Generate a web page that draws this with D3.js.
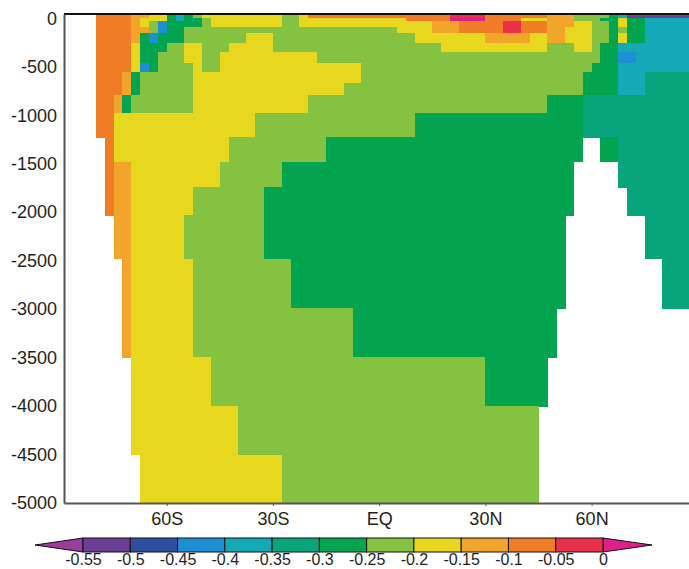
<!DOCTYPE html>
<html>
<head>
<meta charset="utf-8">
<script src="https://cdn.jsdelivr.net/npm/d3@7"></script>
<style>
  body { margin: 0; background: #fff; }
  text { font-family: "Liberation Sans", Arial, sans-serif; fill: #1e1e1e; }
</style>
</head>
<body>
<div id="vis"></div>
<script>
// class values (mid-point of each colour band)
const M = 0.025, R = -0.025, O = -0.075, o = -0.125, Y = -0.175, L = -0.225,
      G = -0.275, T = -0.325, C = -0.375, B = -0.425, P = -0.525;

// layer edges, as elevation in metres (top edge sits just above the surface)
const levelEdges = [45, 0, -30, -90, -150, -250, -350, -460, -550, -670, -790, -975,
                    -1225, -1480, -1740, -2030, -2480, -2990, -3495, -4000, -4500, -5000];

// each layer: runs of [lat from, lat to, value]
const layer0 = [[-80,-70,O],[-70,-65,o],[-65,-60,Y],[-60,-57.5,G],[-57.5,-55,C],[-55,-52.5,G],[-52.5,-50,L],
  [-50,-27.5,Y],[-27.5,-22.5,L],[-22.5,-20,Y],[-20,20,O],[20,30,R],[30,47.5,O],[47.5,55,o],[55,65,L],
  [65,67.5,G],[67.5,70,C],[70,87.5,P]];
const layer1 = [[-80,-70,O],[-70,-67.5,o],[-67.5,-60,Y],[-60,-57.5,G],[-57.5,-55,C],[-55,-50,G],[-50,-47.5,L],
  [-47.5,-27.5,Y],[-27.5,-22.5,L],[-22.5,7.5,Y],[7.5,20,O],[20,30,M],[30,40,O],[40,47.5,Y],[47.5,55,o],
  [55,62.5,L],[62.5,67.5,G],[67.5,70,Y],[70,75,G],[75,87.5,C]];
const layer2 = [[-80,-70,O],[-70,-67.5,o],[-67.5,-65,Y],[-65,-62.5,L],[-62.5,-60,B],[-60,-50,G],[-50,-47.5,L],
  [-47.5,-27.5,Y],[-27.5,-22.5,L],[-22.5,15,Y],[15,22.5,o],[22.5,35,O],[35,40,R],[40,47.5,O],[47.5,55,o],
  [55,60,Y],[60,65,L],[65,67.5,G],[67.5,70,Y],[70,75,G],[75,87.5,C]];
const layer3 = [[-80,-70,O],[-70,-65,o],[-65,-62.5,L],[-62.5,-60,B],[-60,-55,G],[-55,5,L],[5,15,Y],[15,22.5,o],
  [22.5,35,O],[35,40,R],[40,47.5,O],[47.5,52.5,o],[52.5,60,Y],[60,65,L],[65,67.5,G],[67.5,70,L],[70,75,G],
  [75,87.5,C]];
const layer4 = [[-80,-70,O],[-70,-67.5,o],[-67.5,-65,G],[-65,-62.5,B],[-62.5,-55,G],[-55,-37.5,L],[-37.5,-30,Y],
  [-30,10,L],[10,30,Y],[30,42.5,o],[42.5,47.5,Y],[47.5,52.5,o],[52.5,60,Y],[60,65,L],[65,67.5,G],[67.5,70,Y],
  [70,75,G],[75,87.5,C]];
const layer5 = [[-80,-70,O],[-70,-67.5,Y],[-67.5,-60,G],[-60,-55,L],[-55,-50,Y],[-50,-42.5,L],[-42.5,-30,Y],
  [-30,17.5,L],[17.5,47.5,Y],[47.5,55,L],[55,60,Y],[60,62.5,L],[62.5,67.5,G],[67.5,87.5,C]];
const layer6 = [[-80,-70,O],[-70,-67.5,Y],[-67.5,-62.5,G],[-62.5,-55,L],[-55,-50,Y],[-50,-45,L],[-45,-17.5,Y],
  [-17.5,62.5,L],[62.5,67.5,G],[67.5,72.5,B],[72.5,87.5,C]];
const layer7 = [[-80,-70,O],[-70,-67.5,Y],[-67.5,-65,B],[-65,-62.5,G],[-62.5,-52.5,L],[-52.5,-50,Y],[-50,-45,L],
  [-45,-5,Y],[-5,60,L],[60,67.5,G],[67.5,87.5,C]];
const layer8 = [[-80,-72.5,O],[-72.5,-70,o],[-70,-67.5,G],[-67.5,-52.5,L],[-52.5,-5,Y],[-5,57.5,L],[57.5,67.5,G],
  [67.5,75,C],[75,87.5,T]];
const layer9 = [[-80,-72.5,O],[-72.5,-70,o],[-70,-67.5,G],[-67.5,-52.5,L],[-52.5,-10,Y],[-10,57.5,L],[57.5,67.5,G],
  [67.5,75,C],[75,87.5,T]];
const layer10 = [[-80,-75,O],[-75,-72.5,o],[-72.5,-70,G],[-70,-52.5,L],[-52.5,-20,Y],[-20,47.5,L],[47.5,57.5,G],
  [57.5,87.5,T]];
const layer11 = [[-80,-75,O],[-75,-35,Y],[-35,10,L],[10,57.5,G],[57.5,87.5,T]];
const layer12 = [[-77.5,-75,O],[-75,-42.5,Y],[-42.5,-15,L],[-15,57.5,G],[62.5,67.5,G],[67.5,87.5,T]];
const layer13 = [[-77.5,-75,O],[-75,-70,o],[-70,-45,Y],[-45,-27.5,L],[-27.5,55,G],[67.5,87.5,T]];
const layer14 = [[-77.5,-75,O],[-75,-70,o],[-70,-52.5,Y],[-52.5,-32.5,L],[-32.5,55,G],[70,87.5,T]];
const layer15 = [[-75,-70,o],[-70,-55,Y],[-55,-32.5,L],[-32.5,52.5,G],[75,87.5,T]];
const layer16 = [[-72.5,-70,o],[-70,-52.5,Y],[-52.5,-25,L],[-25,52.5,G],[80,87.5,T]];
const layer17 = [[-72.5,-70,o],[-70,-52.5,Y],[-52.5,-7.5,L],[-7.5,50,G]];
const layer18 = [[-70,-47.5,Y],[-47.5,30,L],[30,47.5,G]];
const layer19 = [[-70,-40,Y],[-40,45,L]];
const layer20 = [[-67.5,-27.5,Y],[-27.5,45,L]];

const layers = [layer0, layer1, layer2, layer3, layer4, layer5, layer6, layer7, layer8, layer9, layer10,
                layer11, layer12, layer13, layer14, layer15, layer16, layer17, layer18, layer19, layer20];

const depthTicks = [0, -500, -1000, -1500, -2000, -2500, -3000, -3500, -4000, -4500, -5000];
const latTicks = [-60, -30, 0, 30, 60];
const latLabels = ["60S", "30S", "EQ", "30N", "60N"];
const levels = [-0.55, -0.5, -0.45, -0.4, -0.35, -0.3, -0.25, -0.2, -0.15, -0.1, -0.05, 0];
const levelColors = ["#9a3d9b", "#6c3f97", "#2e4f9f", "#1d90d5", "#13a9b7", "#08a47b", "#03a44f",
                     "#86c241", "#e7d81f", "#f2a52b", "#f07c25", "#e8304b", "#e01f8c"];

const WIDTH = 689, HEIGHT = 569;
const PLOT = {left: 64, right: 689, top: 14, bottom: 503};

const svg = d3.select("#vis").append("svg")
    .attr("width", WIDTH)
    .attr("height", HEIGHT);

const X_SCALE = d3.scaleLinear().domain([-89, 87.5]).range([PLOT.left, PLOT.right]);
const Y_SCALE = d3.scaleLinear().domain([45, -5000]).range([PLOT.top, PLOT.bottom]);
const COLOR = d3.scaleThreshold().domain(levels).range(levelColors);

// cells
const cells = [];
layers.forEach((runs, i) => {
  runs.forEach(r => cells.push({lat0: r[0], lat1: r[1], top: levelEdges[i], bot: levelEdges[i + 1], v: r[2]}));
});

svg.append("g")
  .selectAll("rect")
  .data(cells)
  .enter()
  .append("rect")
    .attr("x", d => X_SCALE(d.lat0))
    .attr("width", d => X_SCALE(d.lat1) - X_SCALE(d.lat0) + 0.5)
    .attr("y", d => Y_SCALE(d.top))
    .attr("height", d => Y_SCALE(d.bot) - Y_SCALE(d.top) + 0.5)
    .attr("fill", d => COLOR(d.v))
    .attr("shape-rendering", "crispEdges");

// frame lines
svg.append("line")
  .attr("x1", PLOT.left).attr("x2", PLOT.right)
  .attr("y1", PLOT.top).attr("y2", PLOT.top)
  .attr("stroke", "#111").attr("stroke-width", 2);

const yAxis = svg.append("g")
  .attr("transform", "translate(" + PLOT.left + ",0)")
  .call(d3.axisLeft(Y_SCALE).tickValues(depthTicks).tickFormat(d => String(d))
        .tickSize(0).tickSizeOuter(0).tickPadding(7));
yAxis.select(".domain").attr("stroke", "#555").attr("stroke-width", 2);
yAxis.selectAll("text").attr("font-size", "18px").attr("fill", "#1e1e1e")
  .style("font-family", "'Liberation Sans', Arial, sans-serif");

const xAxis = svg.append("g")
  .attr("transform", "translate(0," + PLOT.bottom + ")")
  .call(d3.axisBottom(X_SCALE).tickValues(latTicks).tickFormat((d, i) => latLabels[i])
        .tickSize(3).tickSizeOuter(0).tickPadding(6));
xAxis.select(".domain").attr("stroke", "#555").attr("stroke-width", 2);
xAxis.selectAll("line").attr("stroke", "#555");
xAxis.selectAll("text").attr("font-size", "18px").attr("fill", "#1e1e1e")
  .style("font-family", "'Liberation Sans', Arial, sans-serif");

// colour bar
const CB = {top: 538, bottom: 552, tipL: 35, tipR: 652};
const CB_SCALE = d3.scaleLinear().domain([levels[0], levels[levels.length - 1]]).range([83, 603]);
const bar = svg.append("g");
const mid = (CB.top + CB.bottom) / 2;

bar.append("polygon")
  .attr("points", [[CB_SCALE(levels[0]), CB.top], [CB_SCALE(levels[0]), CB.bottom], [CB.tipL, mid]].join(" "))
  .attr("fill", levelColors[0]).attr("stroke", "#111").attr("stroke-width", 1);
bar.append("polygon")
  .attr("points", [[CB_SCALE(0), CB.top], [CB_SCALE(0), CB.bottom], [CB.tipR, mid]].join(" "))
  .attr("fill", levelColors[levelColors.length - 1]).attr("stroke", "#111").attr("stroke-width", 1);

bar.selectAll("rect")
  .data(d3.pairs(levels))
  .enter()
  .append("rect")
    .attr("x", d => CB_SCALE(d[0]))
    .attr("width", d => CB_SCALE(d[1]) - CB_SCALE(d[0]))
    .attr("y", CB.top)
    .attr("height", CB.bottom - CB.top)
    .attr("fill", d => COLOR((d[0] + d[1]) / 2))
    .attr("stroke", "#111").attr("stroke-width", 1);

const cbAxis = bar.append("g")
  .attr("transform", "translate(0," + CB.bottom + ")")
  .call(d3.axisBottom(CB_SCALE).tickValues(levels).tickFormat(d => String(d)).tickSize(0).tickPadding(2));
cbAxis.select(".domain").remove();
cbAxis.selectAll("text").attr("font-size", "16px").attr("fill", "#1e1e1e")
  .style("font-family", "'Liberation Sans', Arial, sans-serif");
</script>
</body>
</html>
